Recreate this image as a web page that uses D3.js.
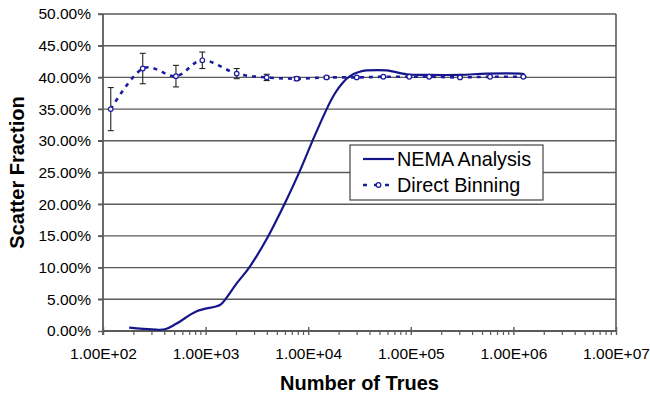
<!DOCTYPE html>
<html>
<head>
<meta charset="utf-8">
<script src="https://cdn.jsdelivr.net/npm/d3@7"></script>
<style>
  body { margin: 0; background: #fff; }
  svg { display: block; }
  text { font-family: "Liberation Sans", Arial, Helvetica, sans-serif; fill: #000; }
</style>
</head>
<body>
<svg id="chart" width="650" height="398"></svg>
<script>
// NEMA analysis curve: number of trues vs scatter fraction (%)
const nemaTrues = [180, 299, 402, 522, 818, 1282, 1489, 2009, 2710, 3936, 5943, 8318,
                   11220, 15136, 18250, 21830, 25530, 30550, 37150, 58210, 91200, 142900,
                   302000, 549500, 1159000, 1242000];
const nemaFraction = [0.54, 0.27, 0.27, 1.18, 3.1, 3.9, 4.6, 7.5, 10.2, 14.5, 20.2, 25.3,
                      30.3, 35.0, 37.5, 39.2, 40.2, 40.8, 41.1, 41.1, 40.5, 40.4,
                      40.4, 40.6, 40.6, 40.4];

// Direct binning estimates with their error bars (%)
const binTrues = [119, 244, 514, 929, 2010, 3940, 7730, 15100, 29700, 54000, 96600, 151000, 302000, 592000, 1250000];
const binFraction = [35.0, 41.4, 40.2, 42.7, 40.6, 40.0, 39.8, 40.0, 40.0, 40.1, 40.1, 40.1, 40.0, 40.1, 40.1];
const binError = [3.4, 2.4, 1.7, 1.3, 0.8, 0.5, 0.3, 0.2, 0.15, 0.1, 0.1, 0.1, 0.1, 0.1, 0.1];

const yTicks = [0, 5, 10, 15, 20, 25, 30, 35, 40, 45, 50];
const xTicks = [1e2, 1e3, 1e4, 1e5, 1e6, 1e7];
const seriesNames = ["NEMA Analysis", "Direct Binning"];
const xTitle = "Number of Trues";
const yTitle = "Scatter Fraction";

const plot = { left: 103, right: 616, top: 14, bottom: 331 };
const gridColor = "#5a5a5a";
const lineColor = "#16168a";
const dashColor = "#1c1ca0";

const svg = d3.select("#chart");

const x = d3.scaleLog().domain([1e2, 1e7]).range([plot.left, plot.right]);
const y = d3.scaleLinear().domain([0, 50]).range([plot.bottom, plot.top]);

// horizontal gridlines (extend left as tick marks)
svg.append("g").selectAll("line")
  .data(yTicks.filter(d => d > 0))
  .join("line")
  .attr("x1", plot.left - 5).attr("x2", plot.right)
  .attr("y1", d => y(d)).attr("y2", d => y(d))
  .attr("stroke", gridColor).attr("stroke-width", 1.4);

// right border
svg.append("line")
  .attr("x1", plot.right).attr("x2", plot.right)
  .attr("y1", plot.top).attr("y2", plot.bottom)
  .attr("stroke", gridColor).attr("stroke-width", 1.6);

// y axis
const yAxis = svg.append("g")
  .attr("transform", `translate(${plot.left},0)`)
  .call(d3.axisLeft(y).tickValues(yTicks).tickSize(5).tickPadding(7)
    .tickFormat(d => d.toFixed(2) + "%"));
yAxis.select(".domain").remove();
yAxis.selectAll(".tick line").attr("stroke", gridColor).attr("stroke-width", 1.4);
yAxis.selectAll(".tick text").attr("font-size", 15.5).attr("font-family", "Liberation Sans, Arial, sans-serif");
svg.append("line")
  .attr("x1", plot.left).attr("x2", plot.left)
  .attr("y1", plot.top).attr("y2", plot.bottom + 4)
  .attr("stroke", gridColor).attr("stroke-width", 1.8);

// x axis: decade labels with two-digit exponents
const sci = d => {
  const [mant, exp] = d.toExponential(2).split("e");
  return mant + "E" + exp[0] + exp.slice(1).padStart(2, "0");
};
const xAxis = svg.append("g")
  .attr("transform", `translate(0,${plot.bottom})`)
  .call(d3.axisBottom(x).tickValues(xTicks).tickSize(4).tickPadding(13).tickFormat(sci));
xAxis.select(".domain").remove();
xAxis.selectAll(".tick line").attr("stroke", gridColor).attr("stroke-width", 1.4).attr("y1", -4);
xAxis.selectAll(".tick text").attr("font-size", 15.5).attr("font-family", "Liberation Sans, Arial, sans-serif");
svg.append("line")
  .attr("x1", plot.left).attr("x2", plot.right)
  .attr("y1", plot.bottom).attr("y2", plot.bottom)
  .attr("stroke", gridColor).attr("stroke-width", 1.8);

// minor ticks 2..9 within each decade
const minor = [];
for (let e = 2; e < 7; e++) for (let k = 2; k <= 9; k++) minor.push(k * Math.pow(10, e));
svg.append("g").selectAll("line")
  .data(minor)
  .join("line")
  .attr("x1", d => x(d)).attr("x2", d => x(d))
  .attr("y1", plot.bottom).attr("y2", plot.bottom + 4)
  .attr("stroke", gridColor).attr("stroke-width", 1.2);

// axis titles
svg.append("text")
  .attr("x", (plot.left + plot.right) / 2).attr("y", 390)
  .attr("text-anchor", "middle")
  .attr("font-size", 20).attr("font-weight", "bold")
  .text(xTitle);
svg.append("text")
  .attr("transform", `translate(24,${(plot.top + plot.bottom) / 2}) rotate(-90)`)
  .attr("text-anchor", "middle")
  .attr("font-size", 20).attr("font-weight", "bold")
  .text(yTitle);

const smooth = d3.line()
  .x(d => x(d[0])).y(d => y(d[1]))
  .curve(d3.curveCardinal.tension(0));

// NEMA analysis curve
const nemaPts = nemaTrues.map((t, i) => [t, nemaFraction[i]]);
svg.append("path")
  .attr("d", smooth(nemaPts))
  .attr("fill", "none").attr("stroke", lineColor).attr("stroke-width", 2.2);

// direct binning: error bars, dotted smoothed line, open markers
const binPts = binTrues.map((t, i) => [t, binFraction[i], binError[i]]);
const eb = svg.append("g").attr("stroke", "#222").attr("stroke-width", 1.1);
binPts.forEach(([t, f, e]) => {
  const cx = x(t), y1 = y(f + e), y2 = y(f - e);
  eb.append("line").attr("x1", cx).attr("x2", cx).attr("y1", y1).attr("y2", y2);
  eb.append("line").attr("x1", cx - 3).attr("x2", cx + 3).attr("y1", y1).attr("y2", y1);
  eb.append("line").attr("x1", cx - 3).attr("x2", cx + 3).attr("y1", y2).attr("y2", y2);
});
svg.append("path")
  .attr("d", smooth(binPts))
  .attr("fill", "none").attr("stroke", dashColor).attr("stroke-width", 2.6)
  .attr("stroke-dasharray", "4,5");
svg.append("g").selectAll("circle")
  .data(binPts)
  .join("circle")
  .attr("cx", d => x(d[0])).attr("cy", d => y(d[1])).attr("r", 2.3)
  .attr("fill", "#fff").attr("stroke", dashColor).attr("stroke-width", 1.2);

// legend
const lg = svg.append("g").attr("transform", "translate(350,145)");
lg.append("rect").attr("width", 193).attr("height", 55)
  .attr("fill", "#fff").attr("stroke", "#444").attr("stroke-width", 1.2);
lg.append("line").attr("x1", 13).attr("x2", 44).attr("y1", 14).attr("y2", 14)
  .attr("stroke", lineColor).attr("stroke-width", 2.2);
lg.append("line").attr("x1", 13).attr("x2", 44).attr("y1", 40).attr("y2", 40)
  .attr("stroke", dashColor).attr("stroke-width", 2.6).attr("stroke-dasharray", "4,7");
lg.append("circle").attr("cx", 28.5).attr("cy", 40).attr("r", 2.3)
  .attr("fill", "#fff").attr("stroke", dashColor).attr("stroke-width", 1.2);
lg.selectAll("text.item")
  .data(seriesNames)
  .join("text")
  .attr("class", "item")
  .attr("x", 47).attr("y", (d, i) => 14 + i * 26)
  .attr("dy", "0.36em")
  .attr("font-size", 19.8)
  .text(d => d);
</script>
</body>
</html>
